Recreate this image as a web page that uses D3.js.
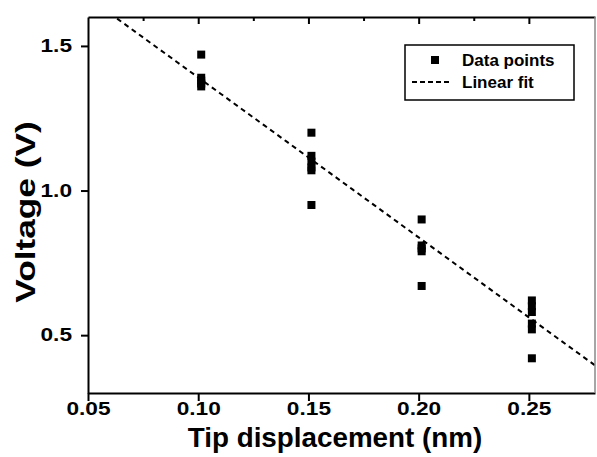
<!DOCTYPE html>
<html>
<head>
<meta charset="utf-8">
<script src="https://cdn.jsdelivr.net/npm/d3@7"></script>
<style>
  body { margin: 0; background: #fff; }
  text { font-family: "Liberation Sans", Arial, sans-serif; font-weight: bold; fill: #000; }
</style>
</head>
<body>
<div id="chart"></div>
<script>
// Data
var xGroups = [0.10, 0.15, 0.20, 0.25];
var voltsAt010 = [1.47, 1.39, 1.38, 1.37, 1.36];
var voltsAt015 = [1.20, 1.12, 1.10, 1.08, 1.07, 0.95];
var voltsAt020 = [0.90, 0.81, 0.80, 0.79, 0.67];
var voltsAt025 = [0.62, 0.60, 0.58, 0.54, 0.52, 0.42];
var fitSlope = -5.53, fitIntercept = 1.944;
var xTicks = [0.05, 0.10, 0.15, 0.20, 0.25];
var yTicks = [0.5, 1.0, 1.5];

var groups = [voltsAt010, voltsAt015, voltsAt020, voltsAt025];
var points = [];
groups.forEach(function(vals, i) {
  vals.forEach(function(v) { points.push({ x: xGroups[i], y: v }); });
});

var width = 597, height = 457;
var margin = { left: 88, right: 2, top: 17, bottom: 64 };
var stretch = 1.26; // the labels' font is wider than Arial bold

var svg = d3.select("#chart").append("svg")
  .attr("width", width)
  .attr("height", height);

var x = d3.scaleLinear().domain([0.05, 0.28]).range([margin.left, width - margin.right]);
var y = d3.scaleLinear().domain([0.3, 1.6]).range([height - margin.bottom, margin.top]);

// Clip for the fit line
svg.append("clipPath").attr("id", "clip")
  .append("rect")
    .attr("x", x.range()[0]).attr("y", y.range()[1])
    .attr("width", x.range()[1] - x.range()[0])
    .attr("height", y.range()[0] - y.range()[1]);

// Linear fit
var fitX = d3.range(0.05, 0.2801, 0.005);
svg.append("path")
  .datum(fitX)
  .attr("clip-path", "url(#clip)")
  .attr("fill", "none")
  .attr("stroke", "#000")
  .attr("stroke-width", 2)
  .attr("stroke-dasharray", "5,4")
  .attr("d", d3.line()
    .x(function(d) { return x(d); })
    .y(function(d) { return y(fitIntercept + fitSlope * d); }));

// Data points
var sq = 8;
svg.selectAll("rect.pt")
  .data(points)
  .join("rect")
    .attr("class", "pt")
    .attr("x", function(d) { return x(d.x) + 3 - sq / 2; })
    .attr("y", function(d) { return y(d.y) - sq / 2; })
    .attr("width", sq)
    .attr("height", sq)
    .attr("fill", "#000");

// Axes
var xAxis = svg.append("g")
  .attr("transform", "translate(0," + (height - margin.bottom) + ")")
  .call(d3.axisBottom(x).tickValues(xTicks).tickFormat(d3.format(".2f")).tickSize(8).tickSizeOuter(0));
var yAxis = svg.append("g")
  .attr("transform", "translate(" + margin.left + ",0)")
  .call(d3.axisLeft(y).tickValues(yTicks).tickFormat(d3.format(".1f")).tickSize(7).tickSizeOuter(0));
var topAxis = svg.append("g")
  .attr("transform", "translate(0," + margin.top + ")")
  .call(d3.axisBottom(x).tickValues([0.075, 0.10, 0.125, 0.15, 0.175, 0.20, 0.225, 0.25]).tickFormat("").tickSize(6).tickSizeOuter(0));
topAxis.selectAll(".tick line").attr("y2", function(d) { return Math.round(d * 1000) % 50 === 0 ? 7 : 4; });

[xAxis, yAxis, topAxis].forEach(function(g) {
  g.select(".domain").attr("stroke-width", 2);
  g.selectAll(".tick line").attr("stroke-width", 2);
});
xAxis.selectAll(".tick text")
  .style("font-size", "18px")
  .attr("y", 22).attr("dy", 0)
  .attr("transform", "scale(" + stretch + ",1)");
yAxis.selectAll(".tick text")
  .style("font-size", "18px")
  .attr("x", -16 / stretch)
  .attr("transform", "scale(" + stretch + ",1)");

// Right border
svg.append("line")
  .attr("x1", x.range()[1]).attr("x2", x.range()[1])
  .attr("y1", y.range()[1]).attr("y2", y.range()[0])
  .attr("stroke", "#888").attr("stroke-width", 1.5);

// Axis titles
svg.append("text")
  .attr("transform", "translate(335,447) scale(1.03,1)")
  .attr("text-anchor", "middle")
  .style("font-size", "27px")
  .text("Tip displacement (nm)");
svg.append("text")
  .attr("transform", "translate(35,212) rotate(-90) scale(" + stretch + ",1)")
  .attr("text-anchor", "middle")
  .style("font-size", "28px")
  .text("Voltage (V)");

// Legend
var legend = svg.append("g");
legend.append("rect")
  .attr("x", 405).attr("y", 45).attr("width", 169).attr("height", 55)
  .attr("fill", "#fff").attr("stroke", "#000").attr("stroke-width", 1.5);
legend.append("rect")
  .attr("x", 431).attr("y", 56).attr("width", sq).attr("height", sq).attr("fill", "#000");
legend.append("line")
  .attr("x1", 412).attr("x2", 452).attr("y1", 82).attr("y2", 82)
  .attr("stroke", "#000").attr("stroke-width", 2).attr("stroke-dasharray", "5,3");
legend.append("text").attr("x", 462).attr("y", 66).style("font-size", "17px").text("Data points");
legend.append("text").attr("x", 462).attr("y", 88).style("font-size", "17px").text("Linear fit");
</script>
</body>
</html>
